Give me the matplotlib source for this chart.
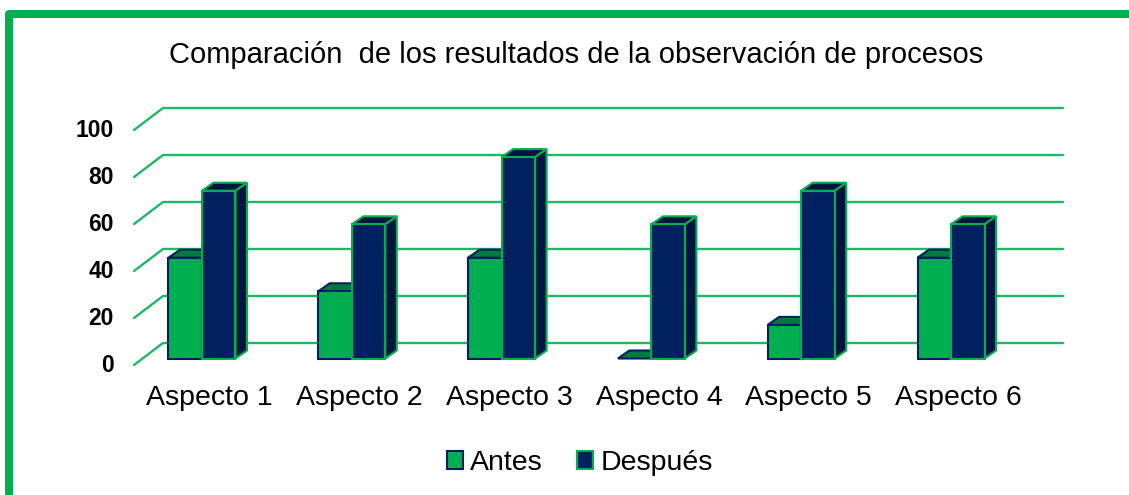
import matplotlib
matplotlib.use("Agg")
import matplotlib.pyplot as plt
from matplotlib.patches import Patch, Rectangle

plt.rcParams['font.family'] = ['Liberation Sans', 'DejaVu Sans']

categories = ['Aspecto 1', 'Aspecto 2', 'Aspecto 3', 'Aspecto 4', 'Aspecto 5', 'Aspecto 6']
antes = [42.9, 28.6, 42.9, 0, 14.3, 42.9]
despues = [71.4, 57.1, 85.7, 57.1, 71.4, 57.1]
y_ticks = [0, 20, 40, 60, 80, 100]

GREEN = '#00B050'
GREEN_TOP = '#007A3D'
NAVY = '#002060'
NAVY_SIDE = '#001440'
GRID = '#1DB866'

W, H = 1129, 495
X0, X_STEP = 202, 149.8   # pixel of first category centre, pixels per category
Y0, Y_STEP = 358.5, 2.35  # pixel of value 0, pixels per value unit

fig = plt.figure(figsize=(W / 100, H / 100), dpi=100)
ax = fig.add_axes([0, 0, 1, 1])
ax.set_xlim(-X0 / X_STEP, (W - X0) / X_STEP)
ax.set_ylim((Y0 - H) / Y_STEP, Y0 / Y_STEP)
ax.axis('off')

bar_w = 33.5 / X_STEP
dx = 11.5 / X_STEP   # 3d depth of a bar
dy = 8 / Y_STEP
grid_dx = 29 / X_STEP  # depth of the floor
grid_dy = 22 / Y_STEP
grid_shift = -6.5 / Y_STEP  # front of the grid sits below the bar base
grid_left = (134 - X0) / X_STEP
grid_right = (1063 - X0) / X_STEP

# outer frame, runs off the right and bottom edge
fig.add_artist(Rectangle((9 / W, -20 / H), 1.05, (H - 14 + 20) / H, transform=fig.transFigure,
                         fill=False, edgecolor=GREEN, linewidth=5.76, joinstyle='round'))

# gridlines with the slanted bit on the left wall
for v in y_ticks:
    y = v + grid_shift
    ax.plot([grid_left, grid_left + grid_dx, grid_right], [y, y + grid_dy, y + grid_dy],
            color=GRID, lw=1.7, solid_capstyle='round', zorder=1)
    ax.text(grid_left - 20 / X_STEP, y - 0.2, str(v), ha='right', va='center',
            fontsize=16.5, fontweight='bold', color='black')


def draw_bar(x, val, face, top, side, edge, z):
    ax.fill([x, x + dx, x + bar_w + dx, x + bar_w], [val, val + dy, val + dy, val],
            facecolor=top, edgecolor=edge, lw=1.5, zorder=z)
    ax.fill([x + bar_w, x + bar_w + dx, x + bar_w + dx, x + bar_w], [0, dy, val + dy, val],
            facecolor=side, edgecolor=edge, lw=1.5, zorder=z)
    if val > 0:
        ax.bar(x, val, bar_w, align='edge', facecolor=face, edgecolor=edge, lw=1.5, zorder=z)


for i, name in enumerate(categories):
    draw_bar(i - bar_w, antes[i], GREEN, GREEN_TOP, GREEN_TOP, NAVY, 2)
    draw_bar(i, despues[i], NAVY, NAVY_SIDE, NAVY_SIDE, GREEN, 3)
    ax.text(i + 7.5 / X_STEP, -16.6, name, ha='center', va='center', fontsize=20.5, color='black')

ax.text((576 - X0) / X_STEP, (Y0 - 55) / Y_STEP,
        'Comparación  de los resultados de la observación de procesos',
        ha='center', va='center', fontsize=21, color='black')

handles = [Patch(facecolor=GREEN, edgecolor=NAVY, lw=1.5, label='Antes'),
           Patch(facecolor=NAVY, edgecolor=GREEN, lw=1.5, label='Después')]
ax.legend(handles=handles, loc='center', bbox_to_anchor=(580 / W, 1 - 463 / H), ncol=2, frameon=False,
          fontsize=20.5, handlelength=0.56, handleheight=0.56, handletextpad=0.27, columnspacing=1.2)

fig.savefig('out.png', dpi=100)
